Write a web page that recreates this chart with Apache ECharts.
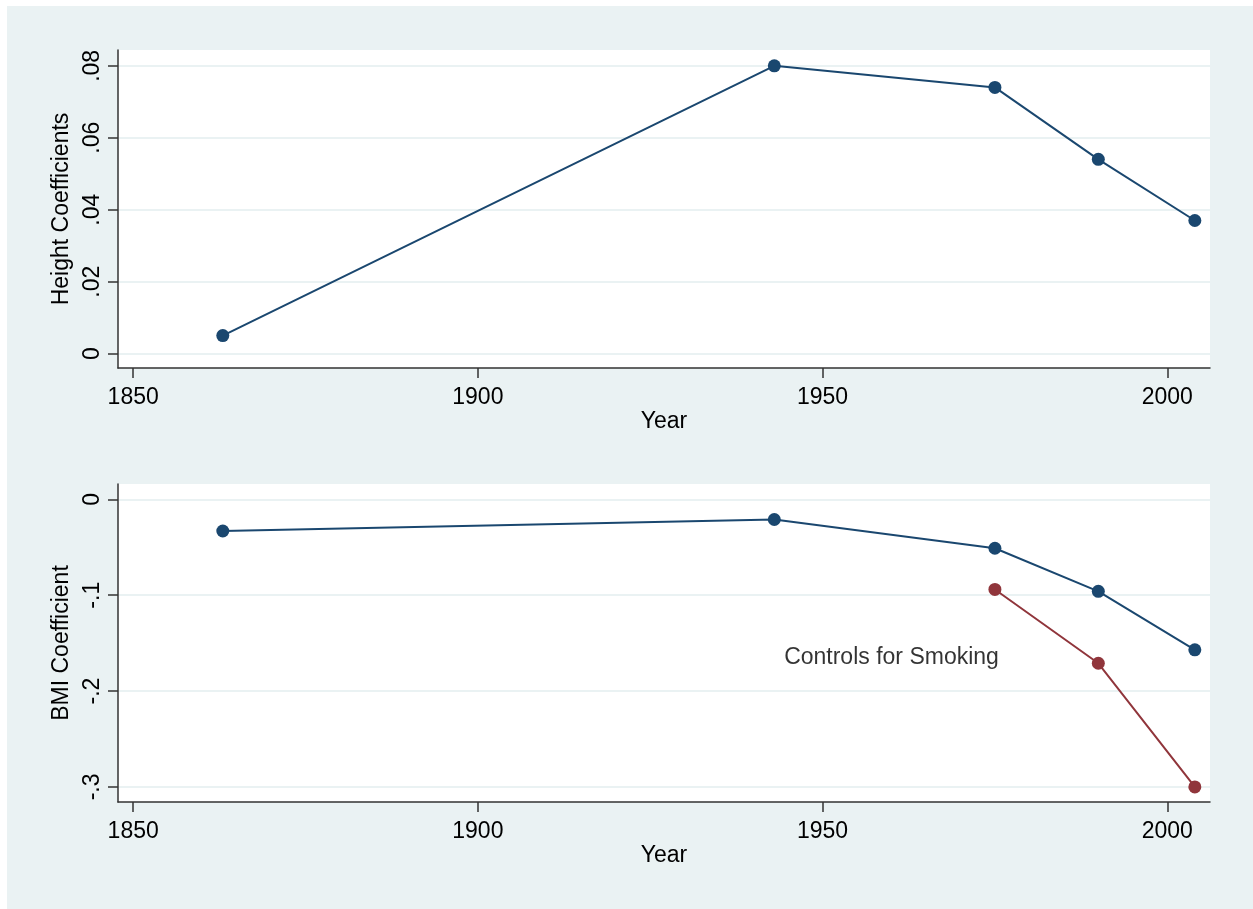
<!DOCTYPE html>
<html>
<head>
<meta charset="utf-8">
<script src="https://cdn.jsdelivr.net/npm/echarts@6/dist/echarts.min.js"></script>
<style>
html, body { margin: 0; padding: 0; background: #ffffff; width: 1253px; height: 909px; overflow: hidden; }
#chart { position: absolute; left: 7px; top: 6px; width: 1246px; height: 903px; }
</style>
</head>
<body>
<div id="chart"></div>
<script>
const years = [1863, 1943, 1975, 1990, 2004];
const heightCoef = [0.005, 0.080, 0.074, 0.054, 0.037];
const bmiCoef = [-0.033, -0.021, -0.051, -0.096, -0.157];
const smokeYears = [1975, 1990, 2004];
const bmiSmoke = [-0.094, -0.171, -0.300];
const xTicks = [1850, 1900, 1950, 2000];
const heightTicks = [0, 0.02, 0.04, 0.06, 0.08];
const bmiTicks = [-0.3, -0.2, -0.1, 0];
const noteText = 'Controls for Smoking';
const notePos = [1960, -0.165];

const FONT = '"Liberation Sans", Arial, sans-serif';
const BLUE = '#1a476f';
const RED = '#90353b';
const AXIS = '#333333';

function fmtStata(v) {
  const r = Math.round(v * 1000) / 1000;
  if (r === 0) return '0';
  let s = String(r);
  s = s.replace(/^0\./, '.').replace(/^-0\./, '-.');
  return s;
}

function xAxisCfg(gridIndex) {
  return {
    type: 'value', gridIndex: gridIndex,
    min: 1847.8, max: 2006.2,
    name: 'Year', nameLocation: 'middle', nameGap: 39,
    nameTextStyle: { fontFamily: FONT, fontSize: 23, color: '#000' },
    axisLine: { show: true, onZero: false, lineStyle: { color: AXIS, width: 1.5 } },
    axisTick: { show: true, length: 10, customValues: xTicks, lineStyle: { color: AXIS, width: 1.5 } },
    axisLabel: { show: true, customValues: xTicks, margin: 18, fontFamily: FONT, fontSize: 23, color: '#000', formatter: function (v) { return String(Math.round(v)); } },
    splitLine: { show: false }
  };
}

function yAxisCfg(gridIndex, name, ticks, min, max) {
  return {
    type: 'value', gridIndex: gridIndex,
    min: min, max: max,
    name: name, nameLocation: 'middle', nameGap: 42, nameRotate: 90,
    nameTextStyle: { fontFamily: FONT, fontSize: 23, color: '#000' },
    axisLine: { show: true, onZero: false, lineStyle: { color: AXIS, width: 1.5 } },
    axisTick: { show: true, length: 10, customValues: ticks, lineStyle: { color: AXIS, width: 1.5 } },
    axisLabel: { show: true, customValues: ticks, rotate: 90, margin: 14, fontFamily: FONT, fontSize: 23, color: '#000', formatter: fmtStata },
    splitLine: { show: true, lineStyle: { color: '#eaf2f3', width: 2 } }
  };
}

function pairs(xs, ys) { return xs.map((x, i) => [x, ys[i]]); }

const chart = echarts.init(document.getElementById('chart'), null, { renderer: 'canvas' });
chart.setOption({
  animation: false,
  backgroundColor: '#eaf2f3',
  grid: [
    { left: 111, top: 44, width: 1092, height: 318, show: true, backgroundColor: '#ffffff', borderWidth: 0 },
    { left: 111, top: 478, width: 1092, height: 318, show: true, backgroundColor: '#ffffff', borderWidth: 0 }
  ],
  xAxis: [xAxisCfg(0), xAxisCfg(1)],
  yAxis: [
    yAxisCfg(0, 'Height Coefficients', heightTicks, -0.004, 0.0844),
    yAxisCfg(1, 'BMI Coefficient', bmiTicks, -0.3157, 0.016)
  ],
  series: [
    {
      type: 'line', xAxisIndex: 0, yAxisIndex: 0, data: pairs(years, heightCoef),
      symbol: 'circle', symbolSize: 13, showAllSymbol: true,
      lineStyle: { color: BLUE, width: 2 }, itemStyle: { color: BLUE }
    },
    {
      type: 'line', xAxisIndex: 1, yAxisIndex: 1, data: pairs(years, bmiCoef),
      symbol: 'circle', symbolSize: 13, showAllSymbol: true,
      lineStyle: { color: BLUE, width: 2 }, itemStyle: { color: BLUE }
    },
    {
      type: 'line', xAxisIndex: 1, yAxisIndex: 1, data: pairs(smokeYears, bmiSmoke),
      symbol: 'circle', symbolSize: 13, showAllSymbol: true,
      lineStyle: { color: RED, width: 2 }, itemStyle: { color: RED }
    },
    {
      type: 'scatter', xAxisIndex: 1, yAxisIndex: 1, data: [notePos],
      symbolSize: 0, silent: true,
      label: { show: true, position: 'inside', formatter: noteText, fontFamily: FONT, fontSize: 23, color: '#000' }
    }
  ]
});
</script>
</body>
</html>
